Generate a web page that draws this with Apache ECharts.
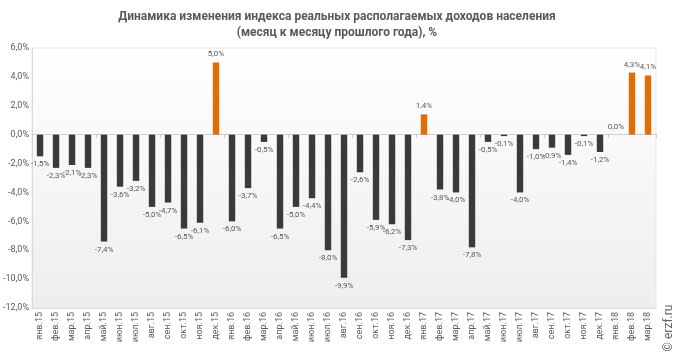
<!DOCTYPE html>
<html>
<head>
<meta charset="utf-8">
<script src="https://cdn.jsdelivr.net/npm/echarts@6/dist/echarts.min.js"></script>
<style>
  html, body { margin: 0; padding: 0; background: #fff; }
  #chart { width: 674px; height: 352px; }
</style>
</head>
<body>
<div id="chart"></div>
<script>
const months = ['янв.15','фев.15','мар.15','апр.15','май.15','июн.15','июл.15','авг.15','сен.15','окт.15','ноя.15','дек.15',
  'янв.16','фев.16','мар.16','апр.16','май.16','июн.16','июл.16','авг.16','сен.16','окт.16','ноя.16','дек.16',
  'янв.17','фев.17','мар.17','апр.17','май.17','июн.17','июл.17','авг.17','сен.17','окт.17','ноя.17','дек.17',
  'янв.18','фев.18','мар.18']
const values = [-1.5, -2.3, -2.1, -2.3, -7.4, -3.6, -3.2, -5.0, -4.7, -6.5, -6.1, 5.0,
  -6.0, -3.7, -0.5, -6.5, -5.0, -4.4, -8.0, -9.9, -2.6, -5.9, -6.2, -7.3,
  1.4, -3.8, -4.0, -7.8, -0.5, -0.1, -4.0, -1.0, -0.9, -1.4, -0.1, -1.2,
  0.0, 4.3, 4.1]
const titleLines = ['Динамика изменения индекса реальных располагаемых доходов населения', '(месяц к месяцу прошлого года), %']

const fmt = v => v.toFixed(1).replace('.', ',') + '%'

const chart = echarts.init(document.getElementById('chart'))

const option = {
  animation: false,
  textStyle: { fontFamily: 'Roboto, "DejaVu Sans", sans-serif' },
  title: {
    text: titleLines.join('\n'),
    left: 'center',
    top: 4,
    textStyle: { fontSize: 12, fontWeight: 'bold', color: '#595959', lineHeight: 16, fontFamily: 'Roboto' }
  },
  grid: {
    left: 32, right: 18, top: 48, bottom: 44,
    show: true,
    borderColor: '#e4e4e4',
    borderWidth: 1,
    backgroundColor: new echarts.graphic.LinearGradient(0, 0, 0, 1, [
      { offset: 0, color: '#ffffff' },
      { offset: 1, color: '#eeeeee' }
    ])
  },
  xAxis: [{
    type: 'category',
    data: months,
    position: 'bottom',
    axisLine: { onZero: false, lineStyle: { color: '#d9d9d9' } },
    axisTick: { show: false },
    axisLabel: { rotate: 90, fontSize: 9, color: '#595959', margin: 4, interval: 0 }
  }, {
    type: 'category',
    data: months,
    position: 'top',
    axisLine: { onZero: true, lineStyle: { color: '#d0d0d0' } },
    axisTick: { show: true, inside: true, length: 3, lineStyle: { color: '#c8c8c8' } },
    axisLabel: { show: false }
  }],
  yAxis: {
    type: 'value',
    min: -12, max: 6, interval: 2,
    axisLine: { show: true, lineStyle: { color: '#d9d9d9' } },
    axisTick: { show: false },
    splitLine: { show: false },
    axisLabel: { fontSize: 9, color: '#595959', margin: 3, formatter: v => v.toFixed(1).replace('.', ',') + '%' }
  },
  graphic: [{
    type: 'text',
    x: 669, y: 328,
    rotation: Math.PI / 2,
    style: { text: '© erzf.ru', fontSize: 12, fill: '#666', align: 'center', verticalAlign: 'middle', fontFamily: 'Roboto' }
  }],
  series: [{
    type: 'bar',
    xAxisIndex: 0,
    barWidth: '40%',
    data: values.map(v => ({
      value: v,
      itemStyle: { color: v > 0 ? '#e36c09' : '#3a3a3a' },
      label: { position: v < 0 ? 'bottom' : 'top' }
    })),
    label: {
      show: true,
      fontSize: 8,
      color: '#595959',
      distance: 4,
      formatter: p => fmt(p.value)
    }
  }]
}

chart.setOption(option)
window.addEventListener('resize', () => chart.resize())
</script>
</body>
</html>
